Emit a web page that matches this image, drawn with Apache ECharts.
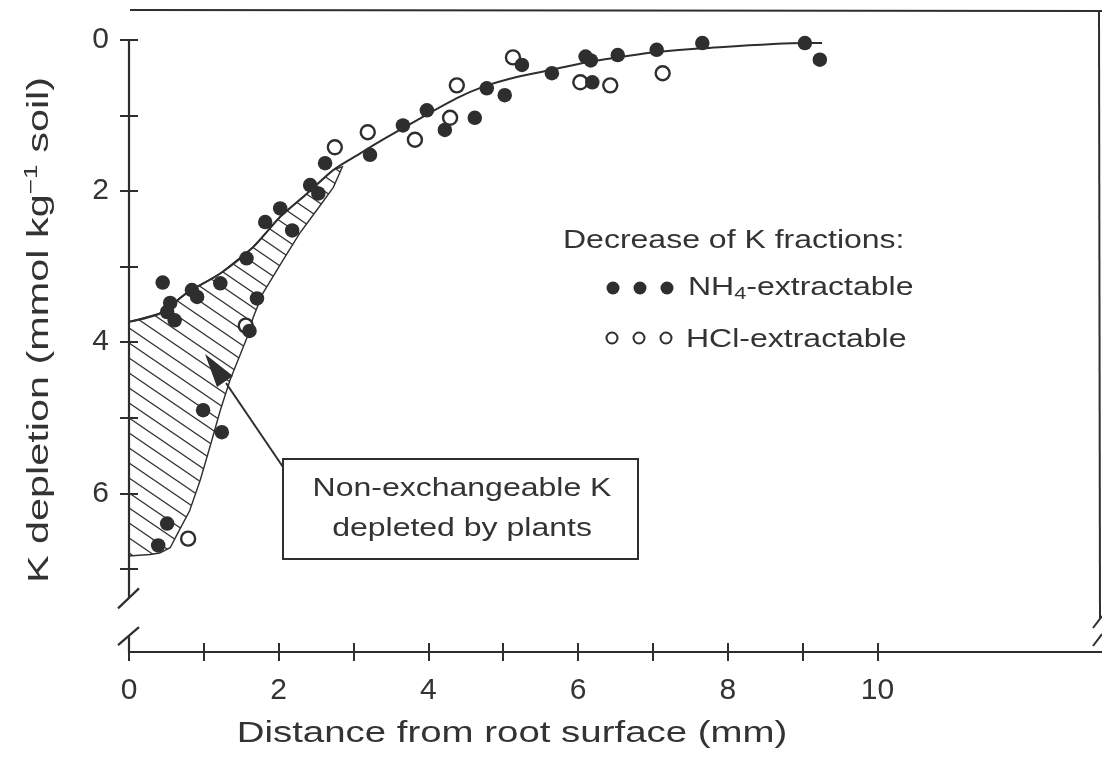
<!DOCTYPE html>
<html>
<head>
<meta charset="utf-8">
<script src="https://cdn.jsdelivr.net/npm/echarts@6/dist/echarts.min.js"></script>
<style>
  html, body { margin: 0; background: #fff; }
  #chart { width: 1102px; height: 770px; }
</style>
</head>
<body>
<div id="chart"></div>
<script>
// ticks and labels
const xTicks = [0, 1, 2, 3, 4, 5, 6, 7, 8, 9, 10];
const xLabels = [0, 2, 4, 6, 8, 10];
const yTicks = [0, 1, 2, 3, 4, 5, 6, 7];
const yLabels = [0, 2, 4, 6];

// measured points: [distance mm, K depletion]
const nh4Points = [
  [0.45, 3.21], [0.84, 3.31], [0.91, 3.40], [0.55, 3.48], [0.51, 3.60], [0.61, 3.71],
  [1.22, 3.22], [1.57, 2.89], [1.71, 3.42], [1.61, 3.85], [1.82, 2.41], [2.02, 2.23],
  [2.18, 2.52], [2.42, 1.92], [2.53, 2.03], [2.62, 1.63], [3.22, 1.52], [3.66, 1.13],
  [3.98, 0.93], [4.22, 1.19], [4.62, 1.03], [4.78, 0.64], [5.02, 0.73], [5.25, 0.33],
  [5.65, 0.44], [6.10, 0.22], [6.17, 0.27], [6.19, 0.56], [6.53, 0.20], [7.05, 0.13],
  [7.66, 0.04], [9.03, 0.04], [9.23, 0.26], [0.99, 4.90], [1.24, 5.19], [0.51, 6.40],
  [0.39, 6.69]
];
const hclPoints = [
  [2.75, 1.42], [3.19, 1.22], [3.82, 1.32], [4.29, 1.03], [4.38, 0.60], [5.13, 0.23],
  [6.03, 0.56], [6.43, 0.60], [7.13, 0.44], [0.79, 6.60], [1.56, 3.78]
];

// fitted curve (NH4 fraction)
const fitX = [0, 0.41, 0.77, 1.22, 1.66, 2.02, 2.38, 2.73, 3.09, 3.39, 3.85, 4.38, 4.73, 5.18, 5.62, 6.13, 6.53, 7.05, 7.66, 9.03, 9.26];
const fitY = [3.73, 3.62, 3.35, 3.09, 2.74, 2.34, 2.03, 1.72, 1.50, 1.32, 1.06, 0.77, 0.62, 0.49, 0.40, 0.29, 0.23, 0.16, 0.11, 0.04, 0.04];

// lower edge of the hatched area (from top down to the axis)
const lowerX = [2.85, 2.73, 2.51, 2.28, 2.06, 1.79, 1.66, 1.58, 1.35, 1.22, 1.08, 0.95, 0.81, 0.65, 0.55, 0.41, 0.28, 0];
const lowerY = [1.68, 1.95, 2.25, 2.56, 2.91, 3.35, 3.67, 3.93, 4.50, 4.90, 5.39, 5.83, 6.23, 6.53, 6.72, 6.79, 6.81, 6.83];

const ink = '#2e2e2e';
const font = 'Liberation Sans';
const stretch = 1.28;

// diagonal hatch tile
function hatchTile() {
  const w = 22, h = 15;
  const c = document.createElement('canvas');
  c.width = w; c.height = h;
  const g = c.getContext('2d');
  g.strokeStyle = '#333';
  g.lineWidth = 1.3;
  for (let k = -1; k <= 1; k++) {
    g.beginPath();
    g.moveTo(-2, -2 * h / w + k * h);
    g.lineTo(w + 2, h + 2 * h / w + k * h);
    g.stroke();
  }
  return { image: c, repeat: 'repeat' };
}
const hatchFill = hatchTile();

// polygon: top edge follows the fitted curve, then back down along the lower edge
const hatchPoly = [];
fitX.forEach((x, i) => { if (x <= 2.8) hatchPoly.push([x, fitY[i]]); });
lowerX.forEach((x, i) => hatchPoly.push([x, lowerY[i]]));

const chart = echarts.init(document.getElementById('chart'));

const tickAxisX = (inside) => ({
  type: 'value', min: 0, max: 13, interval: 1, position: 'bottom',
  axisLine: { show: !inside, onZero: false, lineStyle: { color: ink, width: 2.2 } },
  axisTick: { show: true, inside: inside, length: 9, customValues: xTicks, lineStyle: { color: ink, width: 2 } },
  axisLabel: {
    show: !inside, customValues: xLabels, margin: 24,
    color: '#333', fontFamily: font, fontSize: 30
  },
  splitLine: { show: false }
});
const tickAxisY = (inside) => ({
  type: 'value', min: 0, max: 8.1, inverse: true, position: 'left',
  axisLine: { show: false },
  axisTick: { show: true, inside: inside, length: 9, customValues: yTicks, lineStyle: { color: ink, width: 2 } },
  axisLabel: {
    show: !inside, customValues: yLabels, margin: 20,
    color: '#333', fontFamily: font, fontSize: 30
  },
  splitLine: { show: false }
});

const option = {
  backgroundColor: '#fff',
  animation: false,
  grid: { left: 129, right: 0, top: 40, bottom: 118 },
  xAxis: [tickAxisX(false), tickAxisX(true)],
  yAxis: [tickAxisY(false), tickAxisY(true)],
  series: [
    {
      type: 'custom',
      name: 'hatch',
      z: 1,
      data: [0],
      renderItem: (params, api) => ({
        type: 'polygon',
        shape: { points: hatchPoly.map(p => api.coord(p)) },
        style: { fill: hatchFill, stroke: ink, lineWidth: 1.4 }
      })
    },
    {
      type: 'line',
      name: 'fit',
      z: 2,
      data: fitX.map((x, i) => [x, fitY[i]]),
      smooth: 0.25,
      showSymbol: false,
      lineStyle: { color: ink, width: 2 }
    },
    {
      type: 'scatter',
      name: 'HCl-extractable',
      z: 3,
      data: hclPoints,
      symbolSize: 14,
      itemStyle: { color: '#fff', borderColor: ink, borderWidth: 2.4, opacity: 1 }
    },
    {
      type: 'scatter',
      name: 'NH4-extractable',
      z: 4,
      data: nh4Points,
      symbolSize: 14.5,
      itemStyle: { color: ink, opacity: 1 }
    }
  ]
};
chart.setOption(option);

// frame, axis break and annotations
const p = (x, y) => chart.convertToPixel({ seriesIndex: 3 }, [x, y]);
const seg = (a, b, w) => ({
  type: 'line', z: 10,
  shape: { x1: a[0], y1: a[1], x2: b[0], y2: b[1] },
  style: { stroke: ink, lineWidth: w || 2.2 }
});
const text = (x, y, str, size, extra) => ({
  type: 'text', x: x, y: y, z: 12, scaleX: stretch,
  style: Object.assign({
    text: str, fontFamily: font, fontSize: size, fill: '#333',
    align: 'left', verticalAlign: 'middle'
  }, extra || {})
});

const y0 = p(0, 0), yBreakTop = p(0, 7.39), yBreakBot = p(0, 7.89), yEnd = p(0, 8.1);
const graphics = [
  // top and right frame lines
  seg([130, 10], [1102, 11], 2),
  seg([1099, 10], [1100, 618], 2),
  seg([1093, 628], [1102, 616], 2),
  seg([1093, 646], [1102, 634], 2),
  // broken y axis
  seg(y0, yBreakTop),
  seg([yBreakTop[0] - 11, yBreakTop[1] + 10], [yBreakTop[0] + 10, yBreakTop[1] - 10]),
  seg([yBreakBot[0] - 11, yBreakBot[1] + 9], [yBreakBot[0] + 10, yBreakBot[1] - 9]),
  seg(yBreakBot, yEnd),
  // annotation box + leader with arrow head
  {
    type: 'rect', z: 11,
    shape: { x: 283, y: 459, width: 355, height: 100 },
    style: { fill: '#fff', stroke: ink, lineWidth: 2 }
  },
  seg([283, 467], [226, 383], 2),
  {
    type: 'polygon', z: 11,
    shape: { points: [[205, 354], [233, 376], [217, 387]] },
    style: { fill: ink }
  },
  text(462, 489, 'Non-exchangeable K', 25, { align: 'center' }),
  text(462, 529, 'depleted by plants', 25, { align: 'center' }),
  // legend
  text(563, 241, 'Decrease of K fractions:', 25),
  text(688, 288, '{a|NH}{s|4}{a|-extractable}', 25, {
    rich: {
      a: { fontFamily: font, fontSize: 25, lineHeight: 30, fill: '#333' },
      s: { fontFamily: font, fontSize: 17, lineHeight: 17, verticalAlign: 'bottom', fill: '#333' }
    }
  }),
  text(686, 340, 'HCl-extractable', 25),
  // axis titles
  text(512, 734, 'Distance from root surface (mm)', 30, { align: 'center' }),
  Object.assign(text(40, 330, '{a|K depletion (mmol kg}{s|\u22121}{a| soil)}', 30, {
    align: 'center',
    rich: {
      a: { fontFamily: font, fontSize: 30, lineHeight: 36, fill: '#333' },
      s: { fontFamily: font, fontSize: 19, lineHeight: 19, verticalAlign: 'top', fill: '#333' }
    }
  }), { rotation: Math.PI / 2, scaleX: 1.38 })
];
// legend symbols
[613, 640, 667].forEach(cx => {
  graphics.push({ type: 'circle', z: 12, shape: { cx: cx, cy: 288, r: 6.5 }, style: { fill: ink } });
  graphics.push({ type: 'circle', z: 12, shape: { cx: cx - 1, cy: 338, r: 5.5 }, style: { fill: '#fff', stroke: ink, lineWidth: 2 } });
});
chart.setOption({ graphic: graphics });
</script>
</body>
</html>
